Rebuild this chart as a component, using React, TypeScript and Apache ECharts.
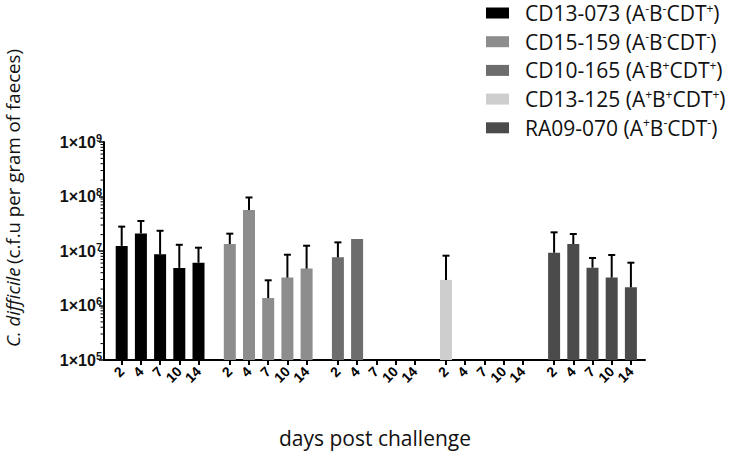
import React, { useEffect, useRef } from "react";
import * as echarts from "echarts";

const days = ["2", "4", "7", "10", "14"];
const strains = ["CD13-073", "CD15-159", "CD10-165", "CD13-125", "RA09-070"];
const toxinA = ["-", "-", "-", "+", "+"];
const toxinB = ["-", "-", "+", "+", "-"];
const toxinCDT = ["+", "-", "+", "+", "-"];
const colors = ["#000000", "#8d8d8d", "#6d6d6d", "#cecece", "#4b4b4b"];

const cd13_073 = [1.24e7, 2.1e7, 8.7e6, 4.9e6, 6.1e6];
const cd13_073Upper = [2.8e7, 3.55e7, 2.35e7, 1.3e7, 1.15e7];
const cd15_159 = [1.34e7, 5.65e7, 1.37e6, 3.25e6, 4.75e6];
const cd15_159Upper = [2.08e7, 9.6e7, 2.9e6, 8.55e6, 1.25e7];
const cd10_165 = [7.65e6, 1.66e7, null, null, null];
const cd10_165Upper = [1.44e7, null, null, null, null];
const cd13_125 = [2.95e6, null, null, null, null];
const cd13_125Upper = [8.2e6, null, null, null, null];
const ra09_070 = [9.3e6, 1.34e7, 4.95e6, 3.25e6, 2.16e6];
const ra09_070Upper = [2.2e7, 2.05e7, 7.45e6, 8.45e6, 6.1e6];

const means = [cd13_073, cd15_159, cd10_165, cd13_125, ra09_070];
const uppers = [cd13_073Upper, cd15_159Upper, cd10_165Upper, cd13_125Upper, ra09_070Upper];

const yExponents = [5, 6, 7, 8, 9];
const minorMultipliers = [2, 3, 4, 5, 6, 7, 8, 9];

const FONT = "'Open Sans', sans-serif";
const BOLD_FONT = "'Liberation Sans', Arial, sans-serif";

export default function App() {
  const ref = useRef<HTMLDivElement>(null);
  useEffect(() => {
    if (!ref.current) return;
    const chart = echarts.init(ref.current, undefined, { renderer: "svg" });

    const names = strains.map(
      (s, i) => `${s} (A${toxinA[i]}B${toxinB[i]}CDT${toxinCDT[i]})`
    );
    const richNames: Record<string, string> = {};
    strains.forEach((s, i) => {
      richNames[names[i]] =
        `{n|${s} (A}{s|${toxinA[i]}}{n|B}{s|${toxinB[i]}}{n|CDT}{s|${toxinCDT[i]}}{n|)}`;
    });

    const axisTop = 142;
    const axisBottom = 96; // 456 - 360
    const groupLeft0 = 112.1;
    const groupStep = 108.1;
    const groupWidth = 96;

    const grids: any[] = [
      { left: 104, right: 86, top: axisTop, bottom: axisBottom, containLabel: false },
    ];
    const xAxes: any[] = [
      {
        type: "value",
        gridIndex: 0,
        min: 0,
        max: 1,
        axisLine: { show: true, lineStyle: { color: "#000", width: 2 } },
        axisTick: { show: false },
        axisLabel: { show: false },
        splitLine: { show: false },
      },
    ];
    const yAxes: any[] = [
      {
        type: "log",
        gridIndex: 0,
        min: 1e5,
        max: 1e9,
        logBase: 10,
        axisLine: { show: true, lineStyle: { color: "#000", width: 2 } },
        axisTick: { show: true, length: 5, lineStyle: { color: "#000", width: 1.5 } },
        splitLine: { show: false },
        axisLabel: {
          margin: 2,
          fontFamily: BOLD_FONT,
          fontWeight: "bold",
          fontSize: 16,
          color: "#111",
          formatter: (v: number) => `{base|1×10}{sup|${Math.round(Math.log10(v))}}`,
          rich: {
            base: {
              fontFamily: BOLD_FONT,
              fontWeight: "bold",
              fontSize: 16,
              color: "#111",
              lineHeight: 20,
            },
            sup: {
              fontFamily: BOLD_FONT,
              fontWeight: "bold",
              fontSize: 11,
              color: "#111",
              verticalAlign: "top",
              lineHeight: 11,
            },
          },
        },
      },
    ];
    const series: any[] = [];

    const minorTicks: number[] = [];
    yExponents.slice(0, 4).forEach((e) => {
      minorMultipliers.forEach((m) => minorTicks.push(m * Math.pow(10, e)));
    });
    series.push({
      type: "custom",
      xAxisIndex: 0,
      yAxisIndex: 0,
      silent: true,
      data: minorTicks.map((v) => [0, v]),
      renderItem: (params: any, api: any) => {
        const p = api.coord([0, api.value(1)]);
        return {
          type: "line",
          shape: { x1: p[0] - 3.5, y1: p[1], x2: p[0], y2: p[1] },
          style: { stroke: "#000", lineWidth: 1 },
        };
      },
    });

    strains.forEach((s, g) => {
      const gi = g + 1;
      grids.push({
        left: groupLeft0 + g * groupStep,
        width: groupWidth,
        top: axisTop,
        bottom: axisBottom,
      });
      xAxes.push({
        type: "category",
        gridIndex: gi,
        data: days,
        boundaryGap: true,
        axisLine: { show: false },
        axisTick: {
          show: true,
          alignWithLabel: true,
          length: 5,
          lineStyle: { color: "#000", width: 2 },
        },
        axisLabel: {
          rotate: 45,
          margin: 9,
          interval: 0,
          color: "#000",
          fontFamily: BOLD_FONT,
          fontWeight: "bold",
          fontSize: 14,
        },
        splitLine: { show: false },
      });
      yAxes.push({
        type: "log",
        gridIndex: gi,
        min: 1e5,
        max: 1e9,
        show: false,
      });
      series.push({
        type: "bar",
        name: names[g],
        xAxisIndex: gi,
        yAxisIndex: gi,
        barWidth: 12,
        clip: true,
        itemStyle: { color: colors[g] },
        data: means[g].map((v) => (v == null ? "-" : v)),
      });
      const errData: any[] = [];
      means[g].forEach((m, i) => {
        const u = uppers[g][i];
        if (m != null && u != null) errData.push([i, m, u]);
      });
      series.push({
        type: "custom",
        xAxisIndex: gi,
        yAxisIndex: gi,
        silent: true,
        z: 5,
        data: errData,
        renderItem: (params: any, api: any) => {
          const p0 = api.coord([api.value(0), api.value(1)]);
          const p1 = api.coord([api.value(0), api.value(2)]);
          return {
            type: "group",
            children: [
              {
                type: "line",
                shape: { x1: p0[0], y1: p0[1], x2: p1[0], y2: p1[1] },
                style: { stroke: "#000", lineWidth: 2 },
              },
              {
                type: "line",
                shape: { x1: p1[0] - 3.5, y1: p1[1], x2: p1[0] + 3.5, y2: p1[1] },
                style: { stroke: "#000", lineWidth: 2 },
              },
            ],
          };
        },
      });
    });

    chart.setOption({
      animation: false,
      backgroundColor: "#fff",
      grid: grids,
      xAxis: xAxes,
      yAxis: yAxes,
      series,
      legend: {
        data: names,
        orient: "vertical",
        left: 486,
        top: 2,
        padding: 0,
        itemWidth: 23,
        itemHeight: 11,
        itemGap: 6.7,
        icon: "rect",
        formatter: (name: string) => richNames[name] || name,
        textStyle: {
          fontFamily: FONT,
          fontSize: 21,
          color: "#111",
          lineHeight: 22,
          padding: [0, 0, 0, 11],
          rich: {
            n: { fontFamily: FONT, fontSize: 21, color: "#111", lineHeight: 22 },
            s: {
              fontFamily: FONT,
              fontSize: 12,
              color: "#111",
              verticalAlign: "top",
              lineHeight: 12,
            },
          },
        },
      },
      graphic: [
        {
          type: "text",
          x: 12,
          y: 198,
          rotation: Math.PI / 2,
          style: {
            text: "{i|C. difficile} {n|(c.f.u per gram of faeces)}",
            align: "center",
            verticalAlign: "middle",
            rich: {
              i: { fontFamily: FONT, fontStyle: "italic", fontSize: 18.7, fill: "#111" },
              n: { fontFamily: FONT, fontSize: 18.7, fill: "#111" },
            },
          },
        },
        {
          type: "text",
          x: 375,
          y: 438,
          style: {
            text: "days post challenge",
            fontFamily: FONT,
            fontSize: 21,
            fill: "#111",
            align: "center",
            verticalAlign: "middle",
          },
        },
      ],
    });
    return () => chart.dispose();
  }, []);
  return (
    <div
      ref={ref}
      style={{ position: "absolute", left: 0, top: 0, width: 731, height: 456 }}
    />
  );
}
